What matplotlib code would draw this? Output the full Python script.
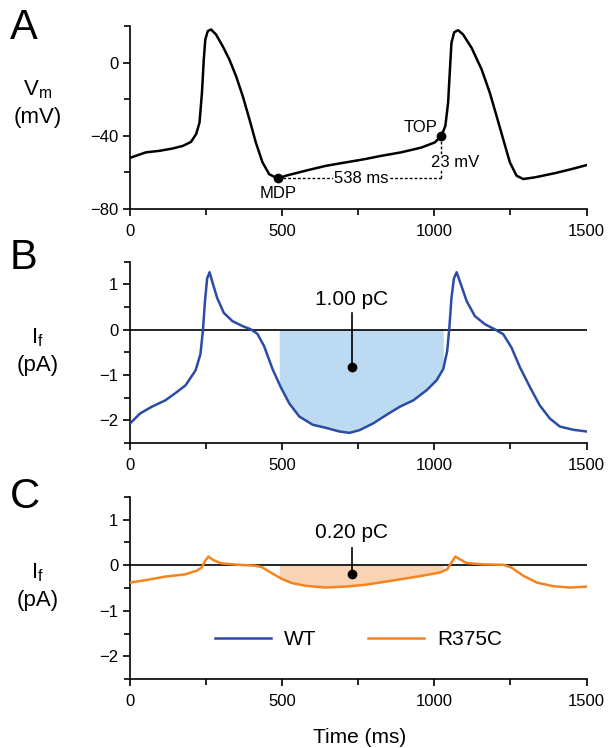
import numpy as np
import matplotlib
matplotlib.use("Agg")
import matplotlib.pyplot as plt
from matplotlib.ticker import MultipleLocator

plt.rcParams['font.family'] = ['Liberation Sans', 'DejaVu Sans']
plt.rcParams['mathtext.fontset'] = 'custom'
plt.rcParams['mathtext.rm'] = 'Liberation Sans'
plt.rcParams['mathtext.it'] = 'Liberation Sans:italic'

# --- DATA ---
# panel A: membrane potential (ms, mV)
vm_t = [0, 52, 96, 140, 173, 200, 217, 228, 236, 242, 247, 255, 266, 282, 304,
        326, 348, 370, 392, 413, 435, 457, 485, 512, 578, 643, 709, 772, 826,
        891, 957, 1001, 1023, 1036, 1045, 1051, 1056, 1065, 1078, 1094, 1122,
        1155, 1182, 1204, 1226, 1248, 1270, 1292, 1330, 1396, 1450, 1500]
vm_v = [-52, -49, -48.2, -46.9, -45.5, -43.3, -39, -32.7, -16.4, 1.8, 12.7, 17.3,
        18.2, 15.5, 9.1, 1.8, -7.3, -18.2, -30.9, -43.6, -54.5, -61, -63.3,
        -61.8, -59, -56.4, -54.5, -52.7, -50.9, -49, -46.4, -43.6, -40, -34.5,
        -21.8, -3.6, 10.9, 16.7, 17.8, 15.5, 8.2, -3.6, -16.4, -29, -41.8,
        -54.5, -61.8, -63.6, -62.7, -60.4, -58.2, -56]

# panel B: WT If (ms, pA)
wt_t = [0, 33, 72, 116, 149, 182, 215, 231, 239, 246, 253, 261, 270, 286, 308,
        336, 369, 396, 418, 440, 468, 495, 523, 556, 600, 644, 688, 721, 754,
        799, 843, 887, 931, 974, 1007, 1029, 1042, 1049, 1056, 1064, 1073, 1084,
        1106, 1133, 1166, 1198, 1226, 1253, 1281, 1314, 1346, 1379, 1412, 1455,
        1500]
wt_i = [-2.07, -1.85, -1.70, -1.56, -1.40, -1.23, -0.90, -0.54, -0.03, 0.63, 1.13,
        1.27, 1.06, 0.70, 0.37, 0.19, 0.08, 0.01, -0.09, -0.36, -0.87, -1.27,
        -1.63, -1.92, -2.10, -2.17, -2.25, -2.28, -2.22, -2.07, -1.88, -1.70,
        -1.56, -1.34, -1.12, -0.87, -0.47, 0.04, 0.70, 1.13, 1.27, 1.06, 0.63,
        0.30, 0.12, 0.01, -0.10, -0.39, -0.83, -1.27, -1.67, -1.96, -2.14,
        -2.21, -2.25]

# panel C: R375C If (ms, pA)
mut_t = [0, 49, 115, 181, 219, 235, 246, 257, 274, 301, 356, 411, 432, 465, 498,
         531, 575, 640, 706, 772, 821, 887, 952, 1018, 1042, 1056, 1069, 1084,
         1105, 1160, 1226, 1253, 1292, 1336, 1390, 1445, 1500]
mut_i = [-0.38, -0.33, -0.25, -0.20, -0.12, -0.05, 0.09, 0.19, 0.11, 0.04, 0.01,
         -0.01, -0.04, -0.17, -0.30, -0.39, -0.45, -0.49, -0.47, -0.43, -0.38,
         -0.31, -0.24, -0.16, -0.09, 0.06, 0.19, 0.13, 0.05, 0.02, 0.01, -0.05,
         -0.23, -0.38, -0.46, -0.49, -0.47]

mdp = (485, -63.3)
top = (1023, -40)
charge_window = (490, 1029)
charges = ['1.00 pC', '0.20 pC']
series_names = ['WT', 'R375C']

BLUE = '#2b4ba6'
ORANGE = '#f5841f'
FILL_BLUE = '#bcdaf1'
FILL_ORANGE = '#f9d4b4'

fig = plt.figure(figsize=(6.11, 7.48), dpi=100)
axA = fig.add_axes([0.213, 0.7206, 0.747, 0.2444])
axB = fig.add_axes([0.213, 0.408, 0.747, 0.242])
axC = fig.add_axes([0.213, 0.0922, 0.747, 0.2434])


def style(ax):
    for s in ['top', 'right']:
        ax.spines[s].set_visible(False)
    for s in ['left', 'bottom']:
        ax.spines[s].set_linewidth(1.2)
    ax.tick_params(which='major', direction='out', length=5, width=1.2, labelsize=12)
    ax.tick_params(axis='x', which='major', pad=6)
    ax.tick_params(which='minor', direction='out', length=4, width=1.2)
    ax.set_xlim(0, 1500)
    ax.xaxis.set_major_locator(MultipleLocator(500))
    ax.xaxis.set_minor_locator(MultipleLocator(250))


# --- A ---
style(axA)
axA.plot(vm_t, vm_v, color='black', lw=1.8, zorder=3)
axA.set_ylim(-80, 20)
axA.yaxis.set_major_locator(MultipleLocator(40))
axA.yaxis.set_minor_locator(MultipleLocator(20))
axA.plot([mdp[0], top[0]], [mdp[1], mdp[1]], ls=(0, (2, 1.5)), color='black', lw=1)
axA.plot([top[0], top[0]], [mdp[1], top[1]], ls=(0, (2, 1.5)), color='black', lw=1)
axA.plot(*mdp, 'o', color='black', ms=6, zorder=4)
axA.plot(*top, 'o', color='black', ms=6, zorder=4)
axA.text(mdp[0], mdp[1] - 4, 'MDP', ha='center', va='top', fontsize=12)
axA.text(top[0] - 12, top[1] + 0.5, 'TOP', ha='right', va='bottom', fontsize=12)
axA.text(760, mdp[1], '538 ms', ha='center', va='center', fontsize=12,
         bbox=dict(facecolor='white', edgecolor='none', pad=0.5), zorder=5)
axA.text(top[0] + 45, -54.5, '23 mV', ha='center', va='center', fontsize=12,
         bbox=dict(facecolor='white', edgecolor='none', pad=0.3), zorder=5)

# --- B and C ---
for ax, t, i, col, fcol in [(axB, wt_t, wt_i, BLUE, FILL_BLUE),
                            (axC, mut_t, mut_i, ORANGE, FILL_ORANGE)]:
    style(ax)
    ax.set_ylim(-2.5, 1.5)
    ax.yaxis.set_major_locator(MultipleLocator(1))
    ax.yaxis.set_minor_locator(MultipleLocator(0.5))
    ax.axhline(0, color='black', lw=1.2, zorder=2)
    t = np.array(t)
    i = np.array(i)
    inside = (t > charge_window[0]) & (t < charge_window[1])
    ts = np.concatenate(([charge_window[0]], t[inside], [charge_window[1]]))
    iv = np.interp(ts, t, i)
    ax.fill_between(ts, iv, 0, color=fcol, lw=0, zorder=1)
    ax.plot(t, i, color=col, lw=1.8, zorder=3)

axB.plot([728, 728], [-0.83, 0.37], color='black', lw=1.2)
axB.plot(728, -0.83, 'o', color='black', ms=6)
axB.text(728, 0.66, charges[0], ha='center', va='center', fontsize=15)

axC.plot([728, 728], [-0.2, 0.37], color='black', lw=1.2)
axC.plot(728, -0.2, 'o', color='black', ms=6)
axC.text(728, 0.72, charges[1], ha='center', va='center', fontsize=15)

h1, = axC.plot([], [], color=BLUE, lw=1.8)
h2, = axC.plot([], [], color=ORANGE, lw=1.8)
axC.legend([h1, h2], series_names, loc='center', bbox_to_anchor=(0.5, 0.2175),
           ncol=2, frameon=False, fontsize=15, handlelength=2.7,
           handletextpad=0.6, columnspacing=2.5)

fig.text(0.588, 0.0147, 'Time (ms)', ha='center', va='center', fontsize=15)

# panel letters and y labels
for lbl, y in [('A', 0.963), ('B', 0.655), ('C', 0.335)]:
    fig.text(0.016, y, lbl, fontsize=30, ha='left', va='center')
fig.text(0.062, 0.880, r'V$_\mathrm{m}$', fontsize=16, ha='center', va='center')
fig.text(0.062, 0.843, '(mV)', fontsize=16, ha='center', va='center')
for y in [0.549, 0.234]:
    fig.text(0.062, y, r'I$_\mathrm{f}$', fontsize=16, ha='center', va='center')
    fig.text(0.062, y - 0.037, '(pA)', fontsize=16, ha='center', va='center')

fig.savefig('out.png', dpi=100)
